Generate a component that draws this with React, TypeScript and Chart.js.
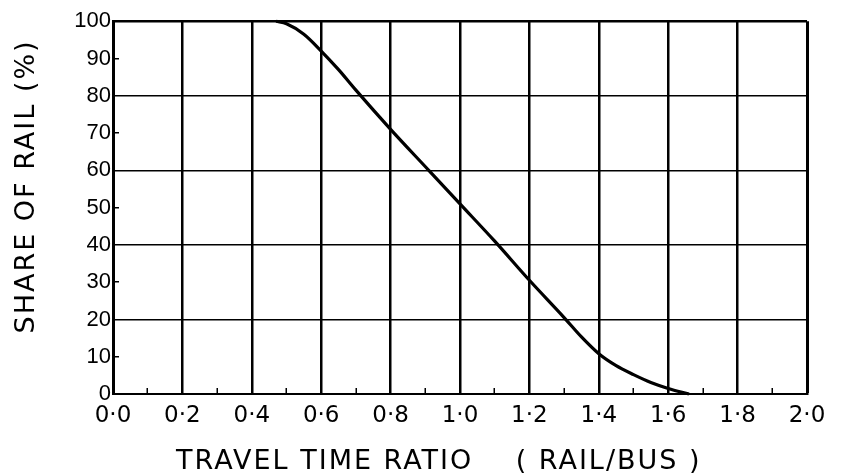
import React, { useEffect, useRef } from 'react';
import { Chart, registerables } from 'chart.js';

Chart.register(...registerables);

// Curve (travel time ratio -> share of rail, %)
const ratio = [0.47, 0.5, 0.55, 0.6, 0.65, 0.7, 0.8, 0.91, 1.0, 1.1, 1.2, 1.3, 1.35, 1.4, 1.45, 1.5, 1.55, 1.6, 1.66];
const share = [100, 99.3, 96.5, 92, 87, 81.5, 71, 60, 51, 41, 30.5, 20.5, 15.3, 10.8, 7.6, 5.2, 3.1, 1.5, 0];

const xMin = 0;
const xMax = 2;
const xStep = 0.1;
const yMin = 0;
const yMax = 100;
const yStep = 10;

const xTitle = 'TRAVEL TIME RATIO    ( RAIL/BUS )    ';
const yTitle = '    SHARE OF RAIL (%)';

const FONT = "'DejaVu Sans', 'Liberation Sans', sans-serif";
const NUM_FONT = "'Liberation Sans', 'DejaVu Sans', sans-serif";

function wrapTitle(scale: any, spacing: string) {
  if (scale.__wrapped) return;
  const orig = scale.drawTitle.bind(scale);
  scale.drawTitle = (...args: any[]) => {
    const ctx = scale.ctx;
    ctx.save();
    try {
      (ctx as any).letterSpacing = spacing;
    } catch (e) {}
    orig(...args);
    ctx.restore();
  };
  scale.__wrapped = true;
}

export default function App() {
  const ref = useRef<HTMLCanvasElement | null>(null);

  useEffect(() => {
    if (!ref.current) return;
    const points = ratio.map((x, i) => ({ x, y: share[i] }));
    const chart = new Chart(ref.current, {
      type: 'line',
      data: {
        datasets: [
          {
            data: points,
            borderColor: '#000',
            borderWidth: 3.2,
            pointRadius: 0,
            cubicInterpolationMode: 'monotone',
            fill: false,
            clip: 4,
          } as any,
        ],
      },
      options: {
        animation: false,
        responsive: true,
        maintainAspectRatio: false,
        layout: { padding: { top: 20, right: 57, bottom: 0, left: 0 } },
        plugins: { legend: { display: false }, tooltip: { enabled: false } },
        scales: {
          x: {
            type: 'linear',
            min: xMin,
            max: xMax,
            afterFit: (scale: any) => {
              scale.height = 82;
              wrapTitle(scale, '2px');
            },
            ticks: {
              stepSize: xStep,
              autoSkip: false,
              maxRotation: 0,
              padding: 14,
              color: '#000',
              font: { family: FONT, size: 23 },
              callback: (value: any) => {
                const v = Math.round(Number(value) * 10);
                if (v % 2 !== 0) return '';
                return (v / 10).toFixed(1).replace('.', '·');
              },
            },
            grid: {
              drawTicks: true,
              tickLength: -6,
              color: (ctx: any) => {
                const v = Math.round(ctx.tick.value * 10);
                return v % 2 === 0 ? '#000' : 'rgba(0,0,0,0)';
              },
              lineWidth: (ctx: any) => {
                const v = Math.round(ctx.tick.value * 10);
                return v === 20 ? 3 : 2.5;
              },
              tickColor: (ctx: any) => {
                const v = Math.round(ctx.tick.value * 10);
                return v % 2 !== 0 ? '#000' : 'rgba(0,0,0,0)';
              },
              tickWidth: 1.5,
            },
            border: { display: true, color: '#000', width: 2 },
            title: {
              display: true,
              text: xTitle,
              color: '#000',
              font: { family: FONT, size: 27, lineHeight: 1.05 },
              padding: { top: 0, bottom: 0 },
            },
          },
          y: {
            type: 'linear',
            min: yMin,
            max: yMax,
            afterFit: (scale: any) => {
              scale.width = 113;
              wrapTitle(scale, '2px');
            },
            ticks: {
              stepSize: yStep,
              padding: 8,
              color: '#000',
              font: { family: NUM_FONT, size: 22 },
              callback: (value: any) => String(value),
            },
            grid: {
              drawTicks: true,
              tickLength: -6,
              color: (ctx: any) => (Math.round(ctx.tick.value) % 20 === 0 ? '#000' : 'rgba(0,0,0,0)'),
              lineWidth: (ctx: any) => (Math.round(ctx.tick.value) === 100 ? 2.5 : 1.5),
              tickColor: (ctx: any) => (Math.round(ctx.tick.value) % 20 !== 0 ? '#000' : 'rgba(0,0,0,0)'),
              tickWidth: 1.5,
            },
            border: { display: true, color: '#000', width: 3 },
            title: {
              display: true,
              text: yTitle,
              color: '#000',
              font: { family: FONT, size: 27 },
              padding: { top: 11, bottom: 0 },
            },
          },
        },
      },
    });
    return () => chart.destroy();
  }, []);

  return (
    <div style={{ position: 'absolute', left: 0, top: 0, width: 864, height: 476, background: '#fff' }}>
      <canvas ref={ref} />
    </div>
  );
}
